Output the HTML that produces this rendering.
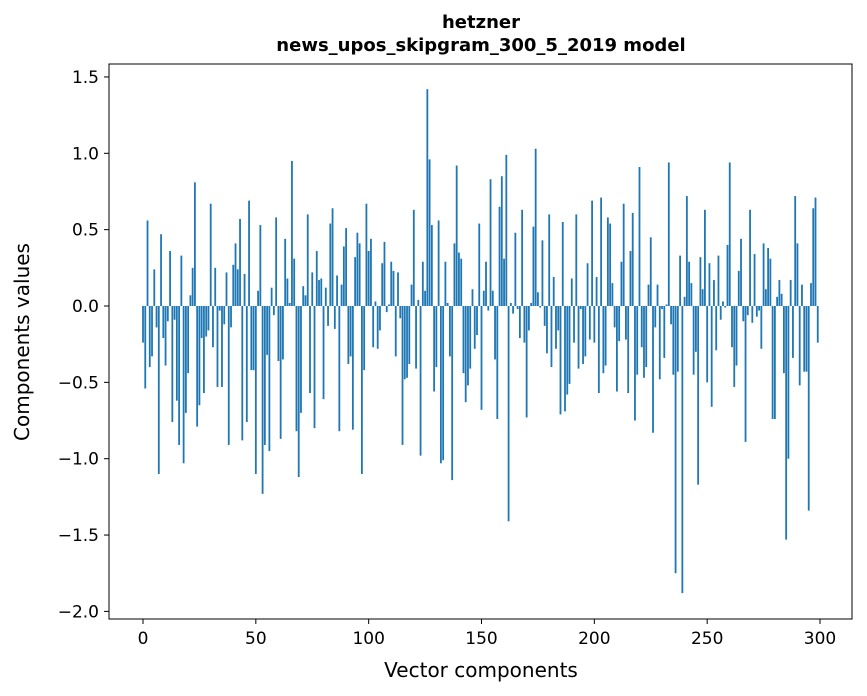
<!DOCTYPE html>
<html><head><meta charset="utf-8"><style>
body{margin:0;background:#fff}
svg{display:block;font-family:"DejaVu Sans","Liberation Sans",sans-serif}
</style></head><body>
<svg id="chart" width="867" height="696" viewBox="0 0 867 696">
<rect width="867" height="696" fill="#fff"/>
<text x="481" y="28" text-anchor="middle" font-size="18" font-weight="bold">hetzner</text>
<text x="481" y="51" text-anchor="middle" font-size="18" font-weight="bold">news_upos_skipgram_300_5_2019 model</text>
<g id="bars"></g>
<g id="xticks"></g>
<g id="yticks"></g>
<rect x="109" y="64" width="743" height="555" fill="none" stroke="#000" stroke-width="1"/>
<text x="481" y="677" text-anchor="middle" font-size="20">Vector components</text>
<text transform="translate(29,342) rotate(-90)" text-anchor="middle" font-size="20">Components values</text>
</svg>
<script>
const values = [
-0.24,-0.54,0.56,-0.40,-0.33,0.24,-0.14,-1.10,0.47,-0.21,
-0.39,-0.10,0.36,-0.76,-0.09,-0.62,-0.91,0.33,-1.03,-0.70,
-0.44,0.07,0.25,0.81,-0.79,-0.65,-0.21,-0.57,-0.20,-0.16,
0.67,-0.27,0.25,-0.53,-0.03,-0.53,-0.12,0.22,-0.91,-0.14,
0.27,0.41,0.24,0.57,-0.88,0.21,-0.76,0.69,-0.42,-0.42,
-1.10,0.10,0.53,-1.23,-0.91,-0.32,-0.95,0.12,-0.06,0.58,
-0.36,-0.87,-0.35,0.44,0.18,0.02,0.95,0.31,-0.82,-1.12,
-0.70,0.13,0.07,0.60,-0.57,0.22,-0.80,0.36,0.17,0.18,
-0.61,0.12,-0.13,0.54,0.64,-0.15,0.20,-0.82,0.14,0.39,
0.51,-0.38,-0.33,-0.81,0.32,0.48,0.41,-1.10,-0.42,0.67,
0.36,0.44,-0.27,0.03,-0.28,-0.16,0.28,0.42,-0.04,0.01,
0.29,0.23,-0.33,0.22,-0.08,-0.91,-0.48,-0.47,-0.38,0.14,
0.63,-0.41,0.04,-0.98,0.29,0.10,1.42,0.96,0.53,-0.56,
-0.40,0.56,-1.03,-1.01,0.29,0.02,-0.33,-1.14,0.41,0.92,
0.35,0.31,-0.44,-0.63,-0.52,-0.41,0.11,-0.28,-0.19,0.54,
-0.68,0.10,0.29,-0.03,0.83,0.10,-0.35,-0.74,0.65,0.85,
0.31,0.99,-1.41,0.02,-0.05,0.48,-0.02,-0.21,0.63,-0.24,
-0.73,-0.16,0.02,0.52,1.03,0.09,-0.01,0.43,-0.13,-0.31,
0.60,-0.40,0.19,-0.28,-0.16,-0.71,0.55,-0.69,-0.58,-0.51,
0.18,-0.24,0.60,-0.41,-0.02,-0.38,-0.33,0.28,-0.22,0.69,
-0.24,0.19,-0.57,0.71,-0.44,-0.39,0.58,0.54,0.15,-0.14,
-0.56,-0.23,0.29,0.67,-0.22,-0.57,0.36,0.61,-0.75,-0.45,
0.91,-0.27,-0.47,-0.40,0.14,0.45,-0.83,-0.14,0.14,-0.48,
-0.02,-0.34,0.01,0.94,-0.12,-0.45,-1.75,-0.43,0.33,-1.88,
0.06,0.72,0.29,0.15,-0.45,-0.30,-1.17,0.32,0.11,0.63,
-0.50,0.28,-0.66,0.17,-0.29,0.33,-0.09,0.03,-0.01,0.40,
0.94,-0.27,-0.53,-0.39,0.23,0.44,-0.10,-0.89,-0.06,0.63,
-0.11,0.34,-0.07,-0.03,-0.28,0.41,0.11,0.38,0.31,-0.74,
-0.74,0.06,0.17,0.08,-0.44,-1.53,-1.00,0.17,-0.34,0.72,
0.41,-0.52,0.14,-0.43,-0.43,-1.34,0.15,0.64,0.71,-0.24
];
const xTicks = [0,50,100,150,200,250,300];
const yTicks = [1.5,1.0,0.5,0.0,-0.5,-1.0,-1.5,-2.0];
const yTickLabels = ["1.5","1.0","0.5","0.0","\u22120.5","\u22121.0","\u22121.5","\u22122.0"];

const NS = "http://www.w3.org/2000/svg";
function xScale(i){ return 143 + i*2.2567; }
function yScale(v){ return 306 - v*152.7; }
const barW = 0.8*2.2567;

const gb = document.getElementById('bars');
values.forEach((v,i)=>{
  const r = document.createElementNS(NS,'rect');
  const y0 = yScale(0), y1 = yScale(v);
  r.setAttribute('x', xScale(i)-barW/2);
  r.setAttribute('y', Math.min(y0,y1));
  r.setAttribute('width', barW);
  r.setAttribute('height', Math.abs(y1-y0));
  r.setAttribute('fill', '#1f77b4');
  
  
  gb.appendChild(r);
});

const gx = document.getElementById('xticks');
xTicks.forEach(t=>{
  const x = xScale(t);
  const l = document.createElementNS(NS,'line');
  l.setAttribute('x1',x); l.setAttribute('x2',x);
  l.setAttribute('y1',619); l.setAttribute('y2',624);
  l.setAttribute('stroke','#000');
  
  
  gx.appendChild(l);
  const tx = document.createElementNS(NS,'text');
  tx.setAttribute('x',x); tx.setAttribute('y',644);
  tx.setAttribute('text-anchor','middle');
  tx.setAttribute('font-size','17');
  tx.textContent = String(t);
  
  
  gx.appendChild(tx);
});

const gy = document.getElementById('yticks');
yTicks.forEach((t,k)=>{
  const y = yScale(t);
  const l = document.createElementNS(NS,'line');
  l.setAttribute('x1',104); l.setAttribute('x2',109);
  l.setAttribute('y1',y); l.setAttribute('y2',y);
  l.setAttribute('stroke','#000');
  
  
  gy.appendChild(l);
  const tx = document.createElementNS(NS,'text');
  tx.setAttribute('x',99); tx.setAttribute('y',y+6);
  tx.setAttribute('text-anchor','end');
  tx.setAttribute('font-size','17');
  tx.textContent = yTickLabels[k];
  
  
  gy.appendChild(tx);
});
</script>
</body></html>
